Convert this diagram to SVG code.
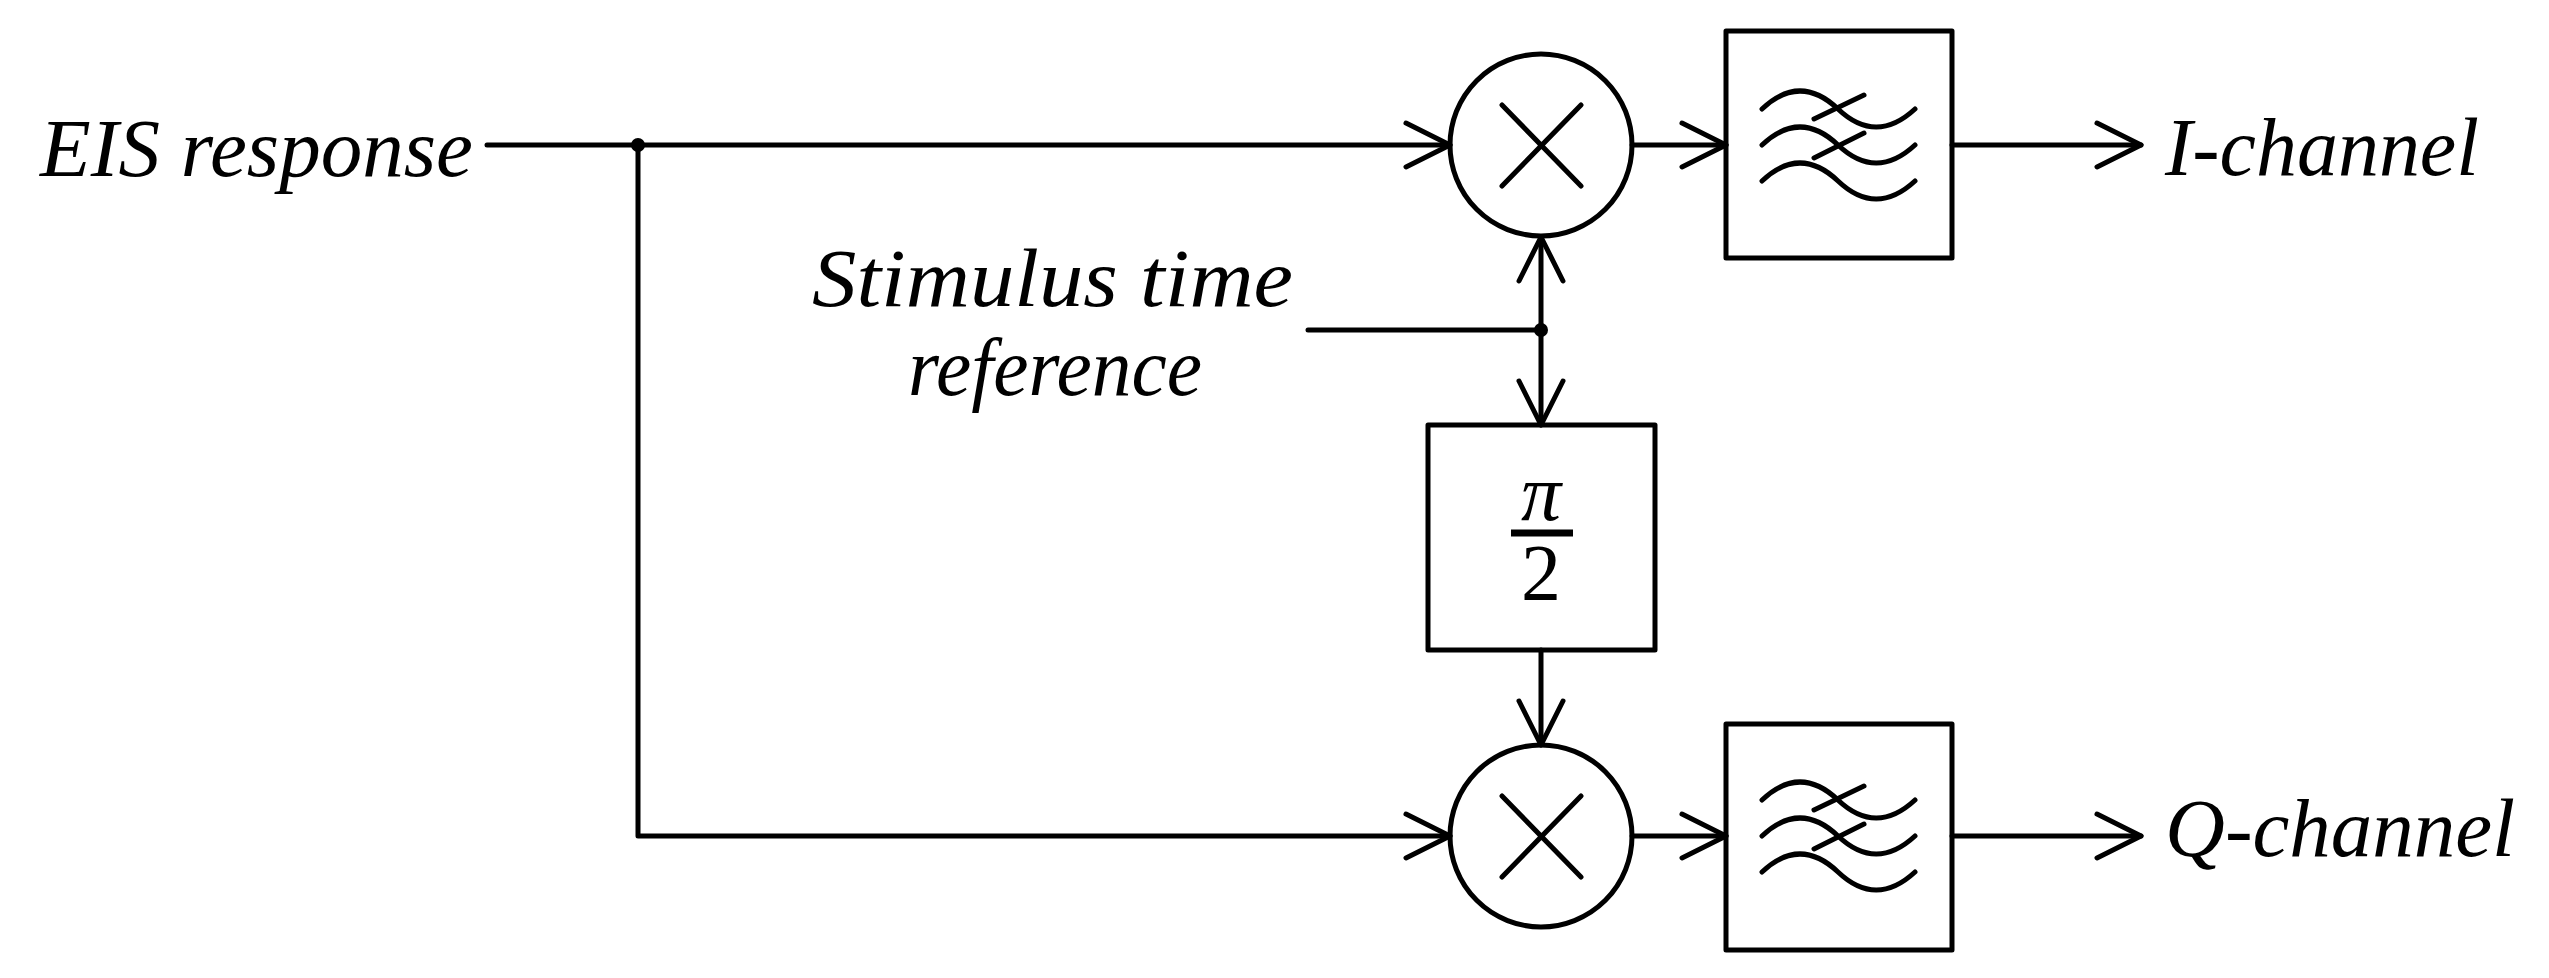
<svg xmlns="http://www.w3.org/2000/svg" width="2549" height="978" viewBox="0 0 2549 978">
<style>
.s{fill:none;stroke:#000;stroke-width:5;stroke-linecap:round;stroke-linejoin:round}
.t{font-family:"Liberation Serif",serif;font-style:italic;font-size:82px;fill:#000}
.m{font-family:"Liberation Serif",serif;font-size:80px;fill:#000}
</style>
<defs>
<marker id="a" markerUnits="userSpaceOnUse" markerWidth="60" markerHeight="60" viewBox="-50 -30 60 60" refX="0" refY="0" orient="auto">
<path d="M-44,-22 L0,0 L-44,22" fill="none" stroke="#000" stroke-width="5" stroke-linecap="round" stroke-linejoin="round"/>
</marker>
<g id="wave">
<path class="s" d="M1762,109 Q1800,73 1838,109 T1915,109"/>
<path class="s" d="M1762,145 Q1800,109 1838,145 T1915,145"/>
<path class="s" d="M1762,181 Q1800,145 1838,181 T1915,181"/>
<path class="s" d="M1814,119 L1864,95 M1814,158 L1864,133"/>
</g>
</defs>
<g id="labels">
<text class="t" x="40" y="176" textLength="433" lengthAdjust="spacingAndGlyphs">EIS response</text>
<text class="t" x="812" y="306" textLength="481" lengthAdjust="spacingAndGlyphs">Stimulus time</text>
<text class="t" x="908" y="395" textLength="294" lengthAdjust="spacingAndGlyphs">reference</text>
<text class="t" x="2165" y="175" textLength="314" lengthAdjust="spacingAndGlyphs">I-channel</text>
<text class="t" x="2165" y="856" textLength="350" lengthAdjust="spacingAndGlyphs">Q-channel</text>
</g>
<g id="mixer-top">
<circle class="s" cx="1541" cy="145" r="91"/>
<path class="s" d="M1502,105 L1581,186 M1581,105 L1502,186"/>
</g>
<g id="mixer-bottom">
<circle class="s" cx="1541" cy="836" r="91"/>
<path class="s" d="M1502,796 L1581,877 M1581,796 L1502,877"/>
</g>
<g id="filter-top">
<rect class="s" x="1726" y="31" width="226" height="227"/>
<use href="#wave"/>
</g>
<g id="filter-bottom">
<rect class="s" x="1726" y="724" width="226" height="226"/>
<use href="#wave" transform="translate(0,691)"/>
</g>
<g id="phase">
<rect class="s" x="1428" y="425" width="227" height="225"/>
<text class="m" x="1541" y="520" text-anchor="middle" font-style="italic">π</text>
<line x1="1511" y1="533" x2="1573" y2="533" stroke="#000" stroke-width="7"/>
<text class="m" x="1541" y="600" text-anchor="middle">2</text>
</g>
<g id="connectors">
<path class="s" d="M487,145 L1450,145" marker-end="url(#a)"/>
<path class="s" d="M638,145 L638,836 L1450,836" marker-end="url(#a)"/>
<circle cx="638" cy="145" r="7" fill="#000"/>
<path class="s" d="M1308,330 L1541,330"/>
<circle cx="1541" cy="330" r="7" fill="#000"/>
<path class="s" d="M1541,330 L1541,237" marker-end="url(#a)"/>
<path class="s" d="M1541,330 L1541,425" marker-end="url(#a)"/>
<path class="s" d="M1541,650 L1541,745" marker-end="url(#a)"/>
<path class="s" d="M1632,145 L1726,145" marker-end="url(#a)"/>
<path class="s" d="M1632,836 L1726,836" marker-end="url(#a)"/>
<path class="s" d="M1952,145 L2141,145" marker-end="url(#a)"/>
<path class="s" d="M1952,836 L2141,836" marker-end="url(#a)"/>
</g>
</svg>
